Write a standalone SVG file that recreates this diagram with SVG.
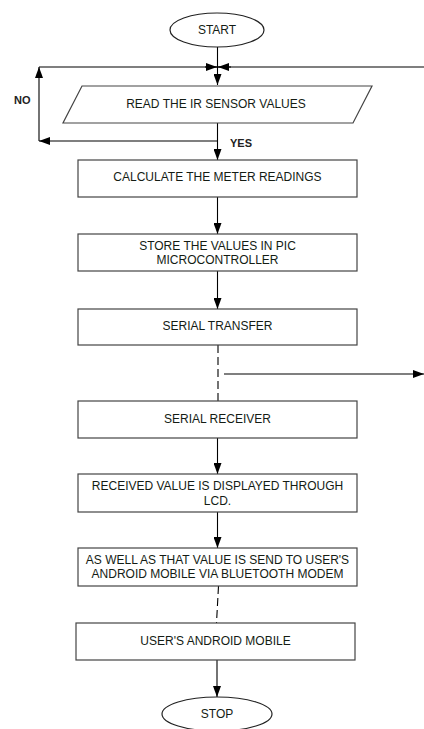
<svg xmlns="http://www.w3.org/2000/svg" width="424" height="729" viewBox="0 0 424 729">
<defs>
<marker id="ah" viewBox="0 0 11 8" refX="11" refY="4" markerWidth="11" markerHeight="8" markerUnits="userSpaceOnUse" orient="auto">
<path d="M0,0 L11,4 L0,8 z" fill="#000"/>
</marker>
</defs>
<style>
.box{fill:#fff;stroke:#444;stroke-width:1.2}
.t{font-family:"Liberation Sans",Arial,sans-serif;font-size:12px;fill:#141c14;text-anchor:middle}
.lb{font-family:"Liberation Sans",Arial,sans-serif;font-size:11px;font-weight:bold;fill:#222}
.c{fill:none;stroke:#000;stroke-width:1.1}
.d{fill:none;stroke:#000;stroke-width:1.1;stroke-dasharray:8 4}
</style>
<rect width="424" height="729" fill="#fff"/>
<g id="connectors">
<line class="c" x1="217.5" y1="47" x2="217.5" y2="85" marker-end="url(#ah)"/>
<line class="c" x1="39" y1="67" x2="424" y2="67"/>
<line class="c" x1="205" y1="67" x2="217" y2="67" marker-end="url(#ah)"/>
<line class="c" x1="231" y1="67" x2="218" y2="67" marker-end="url(#ah)"/>
<line class="c" x1="39" y1="141" x2="39" y2="67" marker-end="url(#ah)"/>
<line class="c" x1="217.5" y1="141" x2="39" y2="141" marker-end="url(#ah)"/>
<line class="c" x1="217.5" y1="123" x2="217.5" y2="160" marker-end="url(#ah)"/>
<line class="c" x1="217.5" y1="197" x2="217.5" y2="234" marker-end="url(#ah)"/>
<line class="c" x1="217.5" y1="271" x2="217.5" y2="309" marker-end="url(#ah)"/>
<line class="d" x1="218" y1="345" x2="218" y2="401"/>
<line class="c" x1="224" y1="374" x2="424" y2="374" marker-end="url(#ah)"/>
<line class="c" x1="217.5" y1="438" x2="217.5" y2="474" marker-end="url(#ah)"/>
<line class="c" x1="217.5" y1="512" x2="217.5" y2="548" marker-end="url(#ah)"/>
<line class="d" x1="218.5" y1="586" x2="216.5" y2="623"/>
<line class="c" x1="217" y1="660" x2="217" y2="697" marker-end="url(#ah)"/>
</g>
<g id="start">
<ellipse cx="217" cy="30" rx="47" ry="17" fill="#fff" stroke="#222" stroke-width="1.2"/>
<text class="t" x="217" y="34">START</text>
</g>
<g id="read">
<polygon class="box" points="82,86 372,86 353,123 63,123"/>
<text class="t" x="216" y="108">READ THE IR SENSOR VALUES</text>
</g>
<g id="label-no"><text class="lb" x="14" y="104">NO</text></g>
<g id="label-yes"><text class="lb" x="230" y="147">YES</text></g>
<g id="calc">
<rect class="box" x="78" y="160" width="279" height="37"/>
<text class="t" x="217.5" y="181">CALCULATE THE METER READINGS</text>
</g>
<g id="store">
<rect class="box" x="78" y="234" width="279" height="37"/>
<text class="t" x="217.5" y="250">STORE THE VALUES IN PIC</text>
<text class="t" x="217.5" y="264">MICROCONTROLLER</text>
</g>
<g id="transfer">
<rect class="box" x="78" y="309" width="279" height="36"/>
<text class="t" x="217.5" y="330">SERIAL TRANSFER</text>
</g>
<g id="receiver">
<rect class="box" x="78" y="401" width="279" height="37"/>
<text class="t" x="217.5" y="423">SERIAL RECEIVER</text>
</g>
<g id="display">
<rect class="box" x="78" y="474" width="279" height="38"/>
<text class="t" x="217.5" y="490">RECEIVED VALUE IS DISPLAYED THROUGH</text>
<text class="t" x="217.5" y="505">LCD.</text>
</g>
<g id="send">
<rect class="box" x="78" y="548" width="279" height="38"/>
<text class="t" x="217.5" y="564">AS WELL AS THAT VALUE IS SEND TO USER'S</text>
<text class="t" x="217.5" y="578">ANDROID MOBILE VIA BLUETOOTH MODEM</text>
</g>
<g id="mobile">
<rect class="box" x="76" y="623" width="279" height="37"/>
<text class="t" x="215.5" y="645">USER'S ANDROID MOBILE</text>
</g>
<g id="stop">
<ellipse cx="217" cy="714" rx="55" ry="17" fill="#fff" stroke="#222" stroke-width="1.2"/>
<text class="t" x="217" y="718">STOP</text>
</g>
</svg>
